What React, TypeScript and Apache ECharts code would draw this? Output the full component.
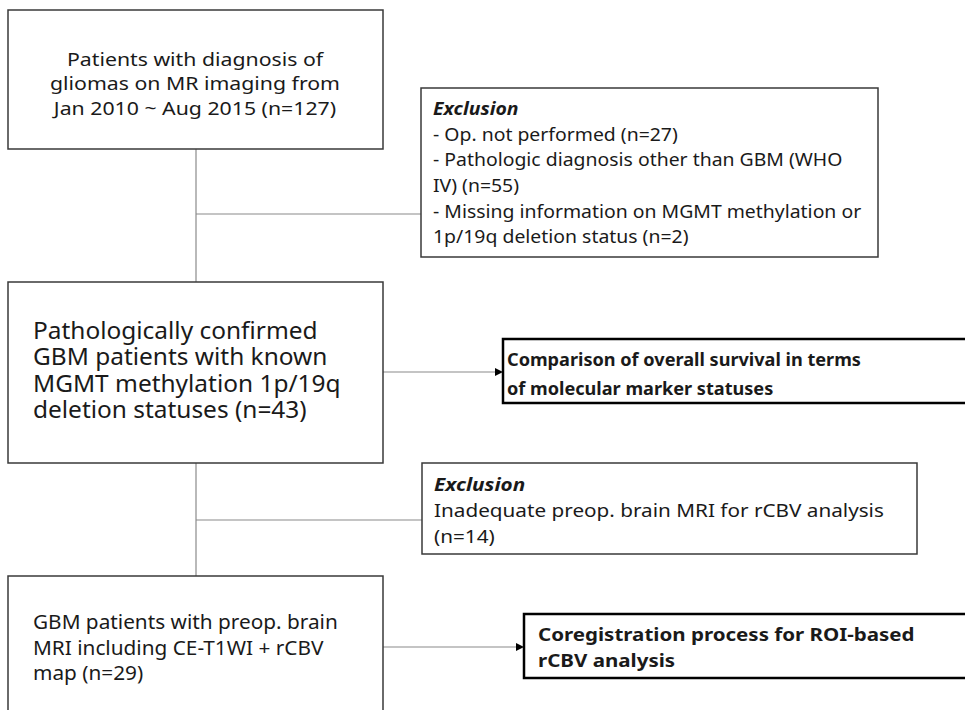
import React, { useEffect, useRef } from "react";
import * as echarts from "echarts";

const box1Lines = ["Patients with diagnosis of", "gliomas on MR imaging from", "Jan 2010 ~ Aug 2015 (n=127)"];
const exclusion1Title = "Exclusion";
const exclusion1Lines = [
  "- Op. not performed (n=27)",
  "- Pathologic diagnosis other than GBM (WHO",
  "IV) (n=55)",
  "- Missing information on MGMT methylation or",
  "1p/19q deletion status (n=2)",
];
const box2Lines = ["Pathologically confirmed", "GBM patients with known", "MGMT methylation 1p/19q", "deletion statuses (n=43)"];
const outcome1Lines = ["Comparison of overall survival in terms", "of molecular marker statuses"];
const exclusion2Title = "Exclusion";
const exclusion2Lines = ["Inadequate preop. brain MRI for rCBV analysis", "(n=14)"];
const box3Lines = ["GBM patients with preop. brain", "MRI including CE-T1WI + rCBV", "map (n=29)"];
const outcome2Lines = ["Coregistration process for ROI-based", "rCBV analysis"];

const FONT = '"Noto Sans", "Open Sans", sans-serif';
const TXT = "#1a1a1a";
const BOX = "#3a3a3a";
const CONN = "#8a8a8a";

function rect(x: number, y: number, w: number, h: number, lw: number, color: string) {
  return {
    type: "rect",
    shape: { x, y, width: w, height: h },
    style: { fill: "#fff", stroke: color, lineWidth: lw },
    silent: true,
  };
}
function line(x1: number, y1: number, x2: number, y2: number) {
  return {
    type: "line",
    shape: { x1, y1, x2, y2 },
    style: { stroke: CONN, lineWidth: 1.2 },
    silent: true,
  };
}
function arrowHead(x: number, y: number) {
  return {
    type: "polygon",
    shape: { points: [[x, y], [x - 8, y - 4], [x - 8, y + 4]] },
    style: { fill: "#000" },
    silent: true,
  };
}
// multi-line block: firstMid = vertical middle of first line, lh = line spacing, sx = horizontal scale
function textBlock(lines: string[], x: number, firstMid: number, lh: number, size: number, align: string, sx = 1, weight = "normal", style = "normal") {
  return {
    type: "text",
    x,
    y: firstMid - lh / 2,
    scaleX: sx,
    style: {
      text: lines.join("\n"),
      fill: TXT,
      fontFamily: FONT,
      fontSize: size,
      fontWeight: weight,
      fontStyle: style,
      lineHeight: lh,
      align,
      verticalAlign: "top",
    },
    silent: true,
  };
}

export default function App() {
  const ref = useRef<HTMLDivElement>(null);
  useEffect(() => {
    if (!ref.current) return;
    const chart = echarts.init(ref.current, null, { renderer: "svg" });
    const elements: any[] = [
      // connectors
      line(196, 149, 196, 282),
      line(196, 214, 421, 214),
      line(196, 463, 196, 576),
      line(196, 520, 422, 520),
      line(383, 372, 496, 372),
      line(383, 647, 517, 647),
      arrowHead(503, 372),
      arrowHead(524, 647),
      // boxes
      rect(8, 10, 375, 139, 1.5, BOX),
      rect(421, 88, 457, 169, 1.5, BOX),
      rect(8, 282, 375, 181, 1.5, BOX),
      rect(503, 339, 470, 64, 2.5, "#000"),
      rect(422, 463, 495, 91, 1.5, BOX),
      rect(8, 576, 375, 150, 1.5, BOX),
      rect(524, 614, 450, 64, 2.5, "#000"),
      // texts
      textBlock(box1Lines, 195, 59, 24.5, 18.5, "center", 1.15),
      textBlock([exclusion1Title], 433, 108, 25.6, 18.5, "left", 1.05, "bold", "italic"),
      textBlock(exclusion1Lines, 433, 134, 25.6, 18.5, "left", 1.05),
      textBlock(box2Lines, 33, 330, 26.2, 23.5, "left", 1.04),
      textBlock(outcome1Lines, 507, 358.5, 28.5, 18.5, "left", 0.98, "bold"),
      textBlock([exclusion2Title], 434, 484, 26, 18.5, "left", 1.12, "bold", "italic"),
      textBlock(exclusion2Lines, 434, 510, 26, 18.5, "left", 1.12),
      textBlock(box3Lines, 33, 621.5, 25.5, 19.5, "left", 1.066),
      textBlock(outcome2Lines, 538, 634, 26, 18.5, "left", 1.11, "bold"),
    ];
    chart.setOption({
      animation: false,
      backgroundColor: "#fff",
      graphic: { elements },
    });
    return () => chart.dispose();
  }, []);
  return (
    <div
      ref={ref}
      style={{ position: "fixed", left: 0, top: 0, width: 965, height: 710, background: "#fff" }}
    />
  );
}
